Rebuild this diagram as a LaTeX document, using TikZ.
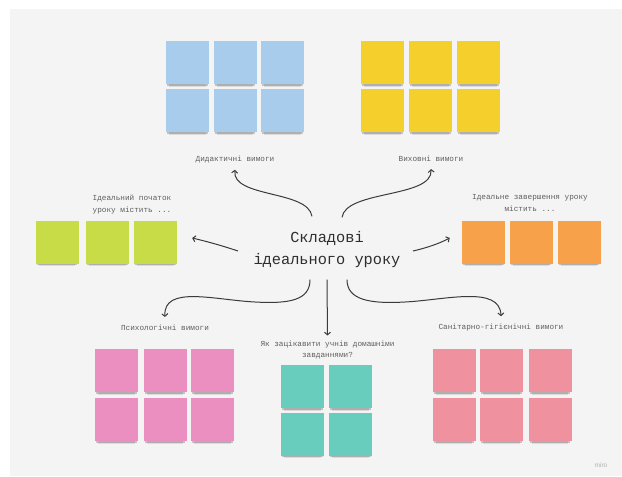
\documentclass[tikz,border=0pt]{standalone}
\usepackage{fontspec}
\setmonofont{Liberation Mono}
\setsansfont{Liberation Sans}
\usetikzlibrary{arrows.meta,shadows}
\definecolor{colbg}{RGB}{244,244,244}
\definecolor{colink}{RGB}{58,58,58}
\definecolor{coltext}{RGB}{95,95,95}
\definecolor{colblue}{RGB}{168,204,236}
\definecolor{colyellow}{RGB}{245,208,45}
\definecolor{colgreen}{RGB}{199,220,70}
\definecolor{colorange}{RGB}{247,162,75}
\definecolor{colpink}{RGB}{235,142,192}
\definecolor{colteal}{RGB}{105,205,190}
\definecolor{colsalmon}{RGB}{240,145,160}
\tikzset{
	>={Straight Barb[length=2.6pt, width=6pt]},
	sticky/.style={minimum size=43pt, inner sep=0pt, fill=#1,
		general shadow={fill=black, opacity=0.10, shadow yshift=-6.5pt, shadow scale=0.86},
		general shadow={fill=black, opacity=0.20, shadow yshift=-3.1pt, shadow scale=0.95}},
	caption/.style={font=\ttfamily\fontsize{7.7}{11.5}\selectfont, text=coltext, align=center, inner sep=2pt},
	link/.style={->, line width=1pt, colink}
}
\begin{document}
\begin{tikzpicture}[x=1pt, y=-1pt]
	\fill[white] (0,0) rectangle (622,477);
	\fill[colbg] (10,9) rectangle (622,476);
	\useasboundingbox (0,0) rectangle (622,477);

	% sticky groups
	\foreach \r [count=\i] in {62.5,110.5} {
		\foreach \c [count=\j] in {187.5,235,282.5} {
			\node[sticky=colblue] (did\i\j) at (\c,\r) {};
		}
		\foreach \c [count=\j] in {382.5,430.5,478.5} {
			\node[sticky=colyellow] (vyh\i\j) at (\c,\r) {};
		}
	}
	\foreach \c [count=\j] in {57,107.5,155.5} {
		\node[sticky=colgreen] (poch\j) at (\c,242) {};
	}
	\foreach \c [count=\j] in {483.5,531,579} {
		\node[sticky=colorange] (zav\j) at (\c,242) {};
	}
	\foreach \r [count=\i] in {370.5,419.5} {
		\foreach \c [count=\j] in {116.5,165,212.5} {
			\node[sticky=colpink] (psy\i\j) at (\c,\r) {};
		}
		\foreach \c [count=\j] in {454,501.5,550} {
			\node[sticky=colsalmon] (san\i\j) at (\c,\r) {};
		}
	}
	\foreach \r [count=\i] in {386.5,434} {
		\foreach \c [count=\j] in {302.5,350.5} {
			\node[sticky=colteal] (dom\i\j) at (\c,\r) {};
		}
	}

	% texts
	\node[font=\ttfamily\fontsize{15.3}{22}\selectfont, text=black!82, align=center] (title) at (327,250) {Складові\\ідеального уроку};
	\node[caption] (didlabel) at (235,159) {Дидактичні вимоги};
	\node[caption] (vyhlabel) at (431,159) {Виховні вимоги};
	\node[caption, align=left] (pochlabel) at (132,204.5) {Ідеальний початок\\уроку містить ...};
	\node[caption] (zavlabel) at (530,203) {Ідеальне завершення уроку\\містить ...};
	\node[caption] (psylabel) at (165,328) {Психологічні вимоги};
	\node[caption] (domlabel) at (327.5,350) {Як зацікавити учнів домашніми\\завданнями?};
	\node[caption] (sanlabel) at (501,328) {Санітарно-гігієнічні вимоги};
	\node[font=\sffamily\fontsize{6.5}{8}\selectfont, text=black!30] (miro) at (601,465) {miro};

	% connectors
	\draw[link] ([xshift=-15pt, yshift=12pt]title.north) .. controls (308,190) and (232,198) .. ([yshift=-5pt]didlabel.south);
	\draw[link] ([xshift=15pt, yshift=11pt]title.north) .. controls (346,190) and (433,198) .. ([yshift=-5pt]vyhlabel.south);
	\draw[link] ([xshift=-89pt, yshift=-1pt]title.center) .. controls (220,245) and (205,241) .. ([xshift=15pt, yshift=4pt]poch3.east);
	\draw[link] ([xshift=86pt, yshift=-1pt]title.center) .. controls (430,247) and (440,243) .. ([xshift=-12pt, yshift=4pt]zav1.west);
	\draw[link] ([xshift=-17pt, yshift=-8pt]title.south) .. controls (310,300) and (290,304) .. (255,302)
		.. controls (215,300) and (163,285) .. ([yshift=6pt]psylabel.north);
	\draw[link] ([yshift=-8pt]title.south) -- ([yshift=3pt]domlabel.north);
	\draw[link] ([xshift=20pt, yshift=-8pt]title.south) .. controls (347,300) and (370,304) .. (405,302)
		.. controls (445,300) and (500,285) .. ([yshift=6pt]sanlabel.north);
\end{tikzpicture}
\end{document}
